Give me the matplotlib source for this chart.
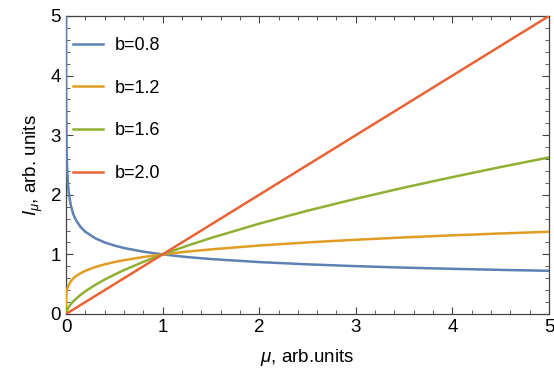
import matplotlib
matplotlib.use("Agg")
import matplotlib.pyplot as plt
from matplotlib.ticker import MultipleLocator

plt.rcParams['font.family'] = ['Liberation Sans', 'DejaVu Sans']
plt.rcParams['mathtext.fontset'] = 'custom'
plt.rcParams['mathtext.rm'] = 'Liberation Sans'
plt.rcParams['mathtext.it'] = 'Liberation Sans:italic'

# values
mu = [0.0003, 0.001, 0.002, 0.005, 0.01, 0.02, 0.03, 0.05, 0.075, 0.1, 0.15, 0.2,
      0.3, 0.4, 0.5, 0.6, 0.8, 1.0, 1.25, 1.5, 2.0, 2.5, 3.0, 3.5, 4.0, 4.5, 5.0]
I_b08 = [5.06, 3.98, 3.47, 2.885, 2.512, 2.187, 2.016, 1.821, 1.679, 1.585, 1.461, 1.380,
         1.273, 1.201, 1.149, 1.107, 1.046, 1.0, 0.956, 0.922, 0.871, 0.833, 0.803, 0.778,
         0.758, 0.740, 0.725]
mu0 = [0.0, 0.00001, 0.0001] + mu
I_b12 = [0.0, 0.100, 0.158, 0.198, 0.251, 0.289, 0.347, 0.398, 0.457, 0.496, 0.549, 0.596,
         0.631, 0.684, 0.725, 0.786, 0.833, 0.871, 0.903, 0.956, 1.0, 1.046, 1.084, 1.149,
         1.201, 1.246, 1.285, 1.320, 1.351, 1.380]
I_b16 = [0.0, 0.001, 0.004, 0.0077, 0.0158, 0.024, 0.0416, 0.063, 0.0956, 0.122, 0.166,
         0.211, 0.251, 0.320, 0.381, 0.486, 0.577, 0.660, 0.736, 0.875, 1.0, 1.143, 1.275,
         1.516, 1.733, 1.933, 2.121, 2.297, 2.466, 2.627]
mu_b20 = [0.0, 5.0]
I_b20 = [0.0, 5.0]

labels = ['b=0.8', 'b=1.2', 'b=1.6', 'b=2.0']
colors = ['#5E81B5', '#E19C24', '#8FB032', '#EB6235']

fig = plt.figure(figsize=(5.54, 3.84), dpi=100)
ax = fig.add_axes([66/554, 70/384, 483/554, 298/384])

ax.plot(mu, I_b08, color=colors[0], lw=1.8, label=labels[0], zorder=3)
ax.plot(mu0, I_b12, color=colors[1], lw=1.8, label=labels[1], zorder=3)
ax.plot(mu0, I_b16, color=colors[2], lw=1.8, label=labels[2], zorder=3)
ax.plot(mu_b20, I_b20, color=colors[3], lw=1.8, label=labels[3], zorder=3)

ax.set_xlim(0, 5)
ax.set_ylim(0, 5)
ax.xaxis.set_major_locator(MultipleLocator(1))
ax.xaxis.set_minor_locator(MultipleLocator(0.2))
ax.yaxis.set_major_locator(MultipleLocator(1))
ax.yaxis.set_minor_locator(MultipleLocator(0.2))
ax.tick_params(which='both', direction='in', top=True, right=True, labelsize=13.5,
               color='#444444')
ax.tick_params(which='major', length=5, width=0.8)
ax.tick_params(which='minor', length=3, width=0.6)
for s in ax.spines.values():
    s.set_color('#444444')
    s.set_linewidth(0.9)

ax.set_xlabel(r'$\mu$, arb.units', fontsize=13.5, labelpad=8)
ax.set_ylabel(r'$I_\mu$, arb. units', fontsize=13.5, labelpad=4)

ax.legend(loc='upper left', bbox_to_anchor=(7/483, (314-37)/298), frameon=False,
          fontsize=13, handlelength=1.67, labelspacing=1.42, borderaxespad=0,
          borderpad=0, handletextpad=0.67)

fig.savefig('out.png', dpi=100)
